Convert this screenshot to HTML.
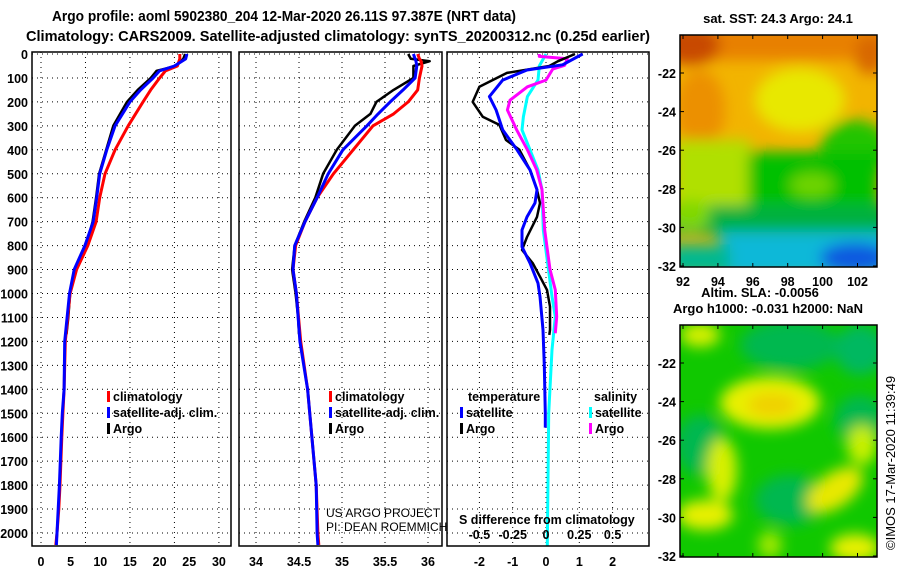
<!DOCTYPE html>
<html><head><meta charset="utf-8"><style>
html,body{margin:0;padding:0;background:#fff;}
svg{display:block;font-family:"Liberation Sans",sans-serif;}
.b{font-weight:bold;font-size:12.5px;}
</style></head><body>
<svg id="fig" width="900" height="580" viewBox="0 0 900 580" xmlns="http://www.w3.org/2000/svg">
<defs>
<filter id="bl" filterUnits="userSpaceOnUse" x="600" y="0" width="300" height="580"><feGaussianBlur stdDeviation="7"/></filter>
<clipPath id="c1"><rect x="680" y="35" width="197" height="232"/></clipPath>
<clipPath id="c2"><rect x="680" y="325" width="197" height="232"/></clipPath>
</defs>
<text x="52" y="21" font-weight="bold" font-size="15" textLength="464" lengthAdjust="spacingAndGlyphs">Argo profile: aoml 5902380_204 12-Mar-2020 26.11S 97.387E (NRT data)</text>
<text x="26" y="41" font-weight="bold" font-size="15" textLength="624" lengthAdjust="spacingAndGlyphs">Climatology: CARS2009. Satellite-adjusted climatology: synTS_20200312.nc (0.25d earlier)</text>
<g id="panels"></g>
<!-- map 1 -->
<text x="778" y="23" text-anchor="middle" font-weight="bold" font-size="13">sat. SST: 24.3 Argo: 24.1</text>
<g clip-path="url(#c1)">
<rect x="680" y="35" width="197" height="232" fill="#f2b400"/>
<g filter="url(#bl)">
<rect x="670" y="25" width="220" height="35" fill="#e88000"/>
<ellipse cx="690" cy="45" rx="30" ry="20" fill="#c84800"/>
<ellipse cx="870" cy="55" rx="15" ry="20" fill="#d86800"/>
<ellipse cx="800" cy="100" rx="45" ry="32" fill="#e8e800"/>
<ellipse cx="700" cy="110" rx="25" ry="40" fill="#ec9000"/>
<rect x="675" y="140" width="75" height="65" fill="#b0e000"/>
<ellipse cx="855" cy="150" rx="35" ry="30" fill="#20c400"/>
<rect x="748" y="152" width="130" height="58" fill="#00c000"/>
<rect x="670" y="205" width="220" height="30" fill="#00b040"/>
<ellipse cx="690" cy="215" rx="20" ry="15" fill="#80d800"/>
<rect x="720" y="232" width="170" height="45" fill="#10b8d8"/>
<rect x="670" y="245" width="60" height="30" fill="#00b890"/>
<ellipse cx="855" cy="258" rx="35" ry="15" fill="#0858e0"/>
<ellipse cx="812" cy="185" rx="22" ry="12" fill="#70d400"/>
</g></g>
<rect x="680" y="35" width="197" height="232" fill="none" stroke="#000" stroke-width="1.5"/>
<g id="map1ax" class="b"></g>
<text x="760" y="297" text-anchor="middle" font-weight="bold" font-size="13">Altim. SLA: -0.0056</text>
<text x="768" y="313" text-anchor="middle" font-weight="bold" font-size="13">Argo h1000: -0.031 h2000: NaN</text>
<!-- map 2 -->
<g clip-path="url(#c2)">
<rect x="680" y="325" width="197" height="232" fill="#10c800"/>
<g filter="url(#bl)">
<ellipse cx="790" cy="345" rx="50" ry="25" fill="#00b850"/>
<ellipse cx="860" cy="350" rx="25" ry="25" fill="#00b860"/>
<ellipse cx="700" cy="445" rx="25" ry="30" fill="#00b850"/>
<ellipse cx="790" cy="500" rx="35" ry="25" fill="#00b850"/>
<ellipse cx="860" cy="420" rx="25" ry="25" fill="#00b850"/>
<ellipse cx="770" cy="403" rx="50" ry="26" fill="#e8f000"/>
<ellipse cx="772" cy="405" rx="25" ry="12" fill="#f0d000"/>
<ellipse cx="722" cy="470" rx="15" ry="32" fill="#d8f000"/>
<ellipse cx="705" cy="515" rx="28" ry="15" fill="#e8f000"/>
<ellipse cx="835" cy="490" rx="32" ry="17" fill="#e8e800" transform="rotate(-35 835 490)"/>
<ellipse cx="862" cy="445" rx="15" ry="20" fill="#c8f000"/>
<ellipse cx="855" cy="548" rx="25" ry="14" fill="#e8f000"/>
<ellipse cx="700" cy="335" rx="20" ry="12" fill="#d8f000"/>
<ellipse cx="770" cy="545" rx="12" ry="14" fill="#a0e800"/>
</g></g>
<rect x="680" y="325" width="197" height="232" fill="none" stroke="#000" stroke-width="1.5"/>
<g id="map2ax" class="b"></g>
<text transform="translate(895,550) rotate(-90)" font-size="13">©IMOS 17-Mar-2020 11:39:49</text>
</svg>
<script>
// ---------- data ----------
const tDepthClim = [0,20,50,70,100,150,200,300,400,500,600,700,800,900,1000,1100,1200,1400,1500,1600,1800,1900,2000,2050];
const tClim = [23.4,23.4,23,21,20,18.5,17.2,14.7,12.5,10.8,9.9,9.3,7.9,6.0,4.9,4.5,4.1,3.9,3.7,3.5,3.2,3.0,2.7,2.5];
const tSat  = [24.6,24.4,22.5,20,18.9,16.8,15,12.5,11.1,9.9,9.4,8.8,7.4,5.6,4.8,4.4,4.0,3.9,3.6,3.4,3.1,2.9,2.7,2.6];
const tDepthArgo = [0,20,50,70,100,150,200,300,400,500,600,700,800,900,1000,1100,1170];
const tArgo = [24.3,24,22.8,19.5,18.5,16.3,14.5,12.2,11,9.8,9.3,8.7,7.6,5.7,4.9,4.6,4.3];
const sDepthClim = [0,20,30,50,100,150,200,250,300,400,500,600,700,800,900,1000,1200,1400,1600,1800,2000,2050];
const sClim = [35.88,35.9,35.92,35.93,35.9,35.88,35.77,35.6,35.36,35.13,34.9,34.71,34.57,34.46,34.43,34.47,34.52,34.6,34.65,34.7,34.72,34.73];
const sSat  = [35.83,35.85,35.86,35.87,35.85,35.71,35.56,35.42,35.29,35.01,34.84,34.71,34.57,34.45,34.43,34.47,34.51,34.6,34.65,34.7,34.71,34.72];
const sDepthArgo = [0,20,30,50,100,150,200,250,300,400,500,600,700,800,900,1000,1100,1170];
const sArgo = [35.77,35.8,36.02,35.83,35.83,35.6,35.4,35.33,35.15,34.94,34.78,34.69,34.56,34.45,34.42,34.46,34.49,34.5];
const dtSatDepth = [0,45,67,109,178,234,317,400,484,567,622,680,735,805,873,957,1013,1152,1300,1500,1560];
const dtSat = [1.1,0.5,-0.57,-1.3,-1.7,-1.5,-1.3,-0.87,-0.48,-0.27,-0.33,-0.57,-0.72,-0.72,-0.48,-0.24,-0.18,-0.09,-0.05,-0.02,-0.02];
const dtArgoDepth = [0,30,50,79,137,200,262,296,359,400,484,567,622,680,764,818,873,930,985,1055,1152,1173];
const dtArgo = [0.87,0.36,0.1,-1.17,-2.0,-2.2,-1.9,-1.4,-1.2,-0.8,-0.48,-0.27,-0.18,-0.27,-0.57,-0.72,-0.4,-0.18,0.03,0.12,0.12,0.1];
const dsSatDepth = [0,50,109,178,262,317,400,484,567,735,1013,1097,1235,1500,2055];
const dsSat = [0.0,-0.05,-0.06,-0.14,-0.17,-0.18,-0.12,-0.06,-0.03,-0.02,0.045,0.07,0.045,0.02,0.01];
const dsArgoDepth = [0,10,20,47,63,109,137,193,234,317,400,484,567,735,900,985,1097,1166];
const dsArgo = [-0.05,-0.05,0.16,0.14,0.05,0.0,-0.14,-0.27,-0.29,-0.22,-0.14,-0.07,-0.03,-0.01,0.03,0.07,0.08,0.07];
const depthTicks = [0,100,200,300,400,500,600,700,800,900,1000,1100,1200,1300,1400,1500,1600,1700,1800,1900,2000];
const tTicks = [0,5,10,15,20,25,30];
const sTicks = [34,34.5,35,35.5,36];
const dTicks = [-2,-1,0,1,2];
const dsTicks = [-0.5,-0.25,0,0.25,0.5];
const latTicks = [-22,-24,-26,-28,-30,-32];
const lonTicks = [92,94,96,98,100,102];

// ---------- helpers ----------
const NS = "http://www.w3.org/2000/svg";
const root = document.getElementById('panels');
function mk(tag, attrs, parent){ const e=document.createElementNS(NS,tag); for(const k in attrs) e.setAttribute(k,attrs[k]); (parent||root).appendChild(e); return e; }
const TOP=52, BOT=546;
const yD = d => 54 + d*0.2395;
const xT = v => 41 + v*5.93;
const xS = v => 256 + (v-34)*86;
const xDT = v => 546 + v*33.3;
const xDS = v => 546 + v*133.2;

const panels = [
  {name:'temperature-panel', x0:32, x1:231, grid:[0,7.5,15,22.5,30].map(xT)},
  {name:'salinity-panel', x0:239, x1:442, grid:sTicks.map(xS)},
  {name:'difference-panel', x0:447, x1:649, grid:dTicks.map(xDT)}
];
panels.forEach(p=>{
  const g = mk('g',{});
  
  
  p.g = g;
  depthTicks.forEach(d=>{ const l=mk('line',{x1:p.x0,x2:p.x1,y1:yD(d),y2:yD(d),stroke:'#000','stroke-width':1,'stroke-dasharray':'1,4'},g);
      });
  p.grid.forEach(x=>{ const l=mk('line',{x1:x,x2:x,y1:TOP,y2:BOT,stroke:'#000','stroke-width':1,'stroke-dasharray':'1,4'},g);
      });
});
function line(p, xs, ds, xf, color, w, name){
  const pts = xs.map((v,i)=>xf(v).toFixed(1)+','+yD(ds[i]).toFixed(1)).join(' ');
  const e = mk('polyline',{points:pts,fill:'none',stroke:color,'stroke-width':w,'stroke-linejoin':'round'},p.g);
  
  
}
line(panels[0], tArgo, tDepthArgo, xT, '#000', 2.5, 'temp-argo-line');
line(panels[0], tClim, tDepthClim, xT, '#f00', 3, 'temp-climatology-line');
line(panels[0], tSat, tDepthClim, xT, '#00f', 3, 'temp-satellite-line');
line(panels[1], sArgo, sDepthArgo, xS, '#000', 2.5, 'sal-argo-line');
line(panels[1], sClim, sDepthClim, xS, '#f00', 3, 'sal-climatology-line');
line(panels[1], sSat, sDepthClim, xS, '#00f', 3, 'sal-satellite-line');
line(panels[2], dsSat, dsSatDepth, xDS, '#00ffff', 3, 'sal-diff-satellite-line');
line(panels[2], dsArgo, dsArgoDepth, xDS, '#ff00ff', 3, 'sal-diff-argo-line');
line(panels[2], dtArgo, dtArgoDepth, xDT, '#000', 2.5, 'temp-diff-argo-line');
line(panels[2], dtSat, dtSatDepth, xDT, '#00f', 3, 'temp-diff-satellite-line');
panels.forEach(p=>{ const r=mk('rect',{x:p.x0,y:TOP,width:p.x1-p.x0,height:BOT-TOP,fill:'none',stroke:'#000','stroke-width':1.5},p.g);
    });

function txt(s,x,y,attrs,parent){ const t=mk('text',Object.assign({x:x,y:y},attrs||{}),parent); t.textContent=s; return t; }
depthTicks.forEach(d=>{ const t=txt(String(d),28,yD(d)+5,{'text-anchor':'end',class:'b'});
    });
tTicks.forEach(v=>{ const t=txt(String(v),xT(v),566,{'text-anchor':'middle',class:'b'});
    });
sTicks.forEach(v=>{ const t=txt(String(v),xS(v),566,{'text-anchor':'middle',class:'b'});
    });
dTicks.forEach(v=>{ const t=txt(String(v),xDT(v),566,{'text-anchor':'middle',class:'b'});
    });
dsTicks.forEach(v=>{ const t=txt(String(v),xDS(v),539,{'text-anchor':'middle',class:'b'});
    });
const sd=txt('S difference from climatology',459,524,{class:'b'});
 
const c1=txt('US ARGO PROJECT',326,517,{'font-size':12});
 
const c2=txt('PI: DEAN ROEMMICH',326,531,{'font-size':12});
 

function leg(x,y,color,label){ const r=mk('rect',{x:x,y:y-10,width:3,height:11,fill:color});
   
  const t=txt(label,x+6,y,{class:'b'});
    }
leg(107,401,'#f00','climatology'); leg(107,417,'#00f','satellite-adj. clim.'); leg(107,433,'#000','Argo');
leg(329,401,'#f00','climatology'); leg(329,417,'#00f','satellite-adj. clim.'); leg(329,433,'#000','Argo');
const lt=txt('temperature',468,401,{class:'b'});  
const ls=txt('salinity',594,401,{class:'b'});  
leg(460,417,'#00f','satellite'); leg(460,433,'#000','Argo');
leg(589,417,'#00ffff','satellite'); leg(589,433,'#ff00ff','Argo');

function mapAxes(gid, top, showLon){
  const g=document.getElementById(gid);
  latTicks.forEach(v=>{ const y=top+38+(-22-v)*19.3;
    const t=txt(String(v),676,y+5,{'text-anchor':'end'},g);  
    mk('line',{x1:680,x2:684,y1:y,y2:y,stroke:'#000'},g); mk('line',{x1:873,x2:877,y1:y,y2:y,stroke:'#000'},g); });
  lonTicks.forEach(v=>{ const x=683+(v-92)*17.45;
    mk('line',{x1:x,x2:x,y1:top,y2:top+4,stroke:'#000'},g); mk('line',{x1:x,x2:x,y1:top+228,y2:top+232,stroke:'#000'},g);
    if(showLon){ const t=txt(String(v),x,top+251,{'text-anchor':'middle'},g);   } });
}
mapAxes('map1ax',35,true);
mapAxes('map2ax',325,false);
</script>
</body></html>
